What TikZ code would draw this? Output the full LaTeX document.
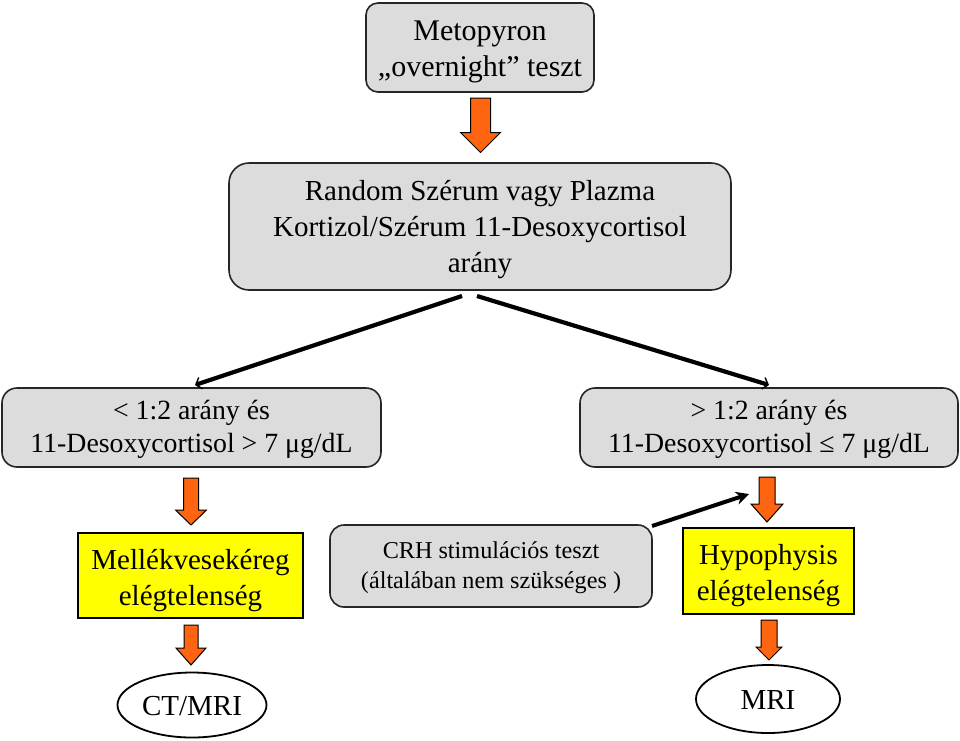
\documentclass[tikz,border=0pt]{standalone}
\usepackage{fontspec}
\setmainfont{Liberation Serif}
\usetikzlibrary{arrows.meta,shapes.geometric}
\definecolor{boxgray}{HTML}{DCDCDC}
\definecolor{orfill}{HTML}{FF6410}
\definecolor{yel}{HTML}{FFFF00}
\tikzset{
  graybox/.style={draw=black!85, line width=1.6pt, fill=boxgray, rounded corners=#1, inner sep=0pt},
  yelbox/.style={draw=black, line width=2.6pt, fill=yel, inner sep=0pt},
  ovalbox/.style={ellipse, draw=black, line width=1.8pt, fill=white, inner sep=0pt},
  txt/.style={align=center, inner sep=0pt},
  orarrow/.style={draw=black, line width=1pt, fill=orfill, line join=miter},
  blackarrow/.style={line width=4pt, -{Stealth[length=13pt,width=13pt]}},
  thinhead/.style={line width=4.2pt, -{Straight Barb[length=5pt,width=12pt,line width=1.4pt]}},
  topfont/.style={font=\fontsize{30}{36}\selectfont},
  bigfont/.style={font=\fontsize{29}{36}\selectfont},
  midfont/.style={font=\fontsize{27.8}{33}\selectfont},
  smallfont/.style={font=\fontsize{24.2}{30}\selectfont}
}
\newcommand\orangeArrow[6]{%
  \draw[orarrow] ({#1-#4/2},#2) -- ({#1+#4/2},#2) -- ({#1+#4/2},{#3-#6}) -- ({#1+#5/2},{#3-#6}) -- (#1,#3) -- ({#1-#5/2},{#3-#6}) -- ({#1-#4/2},{#3-#6}) -- cycle;}
\begin{document}
\begin{tikzpicture}[x=1pt,y=-1pt]
\useasboundingbox (0,0) rectangle (960,740);
\fill[white] (0,0) rectangle (960,740);

% boxes
\node[graybox=12pt, minimum width=228pt, minimum height=89pt] (metop) at (480,47.5) {};
\node[graybox=20pt, minimum width=502pt, minimum height=127pt] (ratio) at (480,226.5) {};
\node[graybox=15pt, minimum width=379pt, minimum height=79pt] (low) at (191.5,427.5) {};
\node[graybox=15pt, minimum width=378pt, minimum height=79pt] (high) at (769,427.5) {};
\node[yelbox, minimum width=225pt, minimum height=85pt] (adrenal) at (190.5,575.5) {};
\node[graybox=14pt, minimum width=322pt, minimum height=82pt] (crh) at (491,566) {};
\node[yelbox, minimum width=171pt, minimum height=86pt] (hypo) at (768.5,571) {};
\node[ovalbox, minimum width=149pt, minimum height=65pt] (ctmri) at (192,705) {};
\node[ovalbox, minimum width=144pt, minimum height=68pt] (mri) at (768,699) {};

% texts
\node[txt, topfont] (metopT) at ([yshift=-4pt]metop.center) {Metopyron\\„overnight” teszt};
\node[txt, bigfont] (ratioT) at ([yshift=-3pt]ratio.center) {Random Szérum vagy Plazma\\Kortizol/Szérum 11-Desoxycortisol\\arány};
\node[txt, midfont] (lowT) at ([yshift=-1.5pt]low.center) {< 1:2 arány és\\11-Desoxycortisol > 7 μg/dL};
\node[txt, midfont] (highT) at ([yshift=-1.5pt]high.center) {> 1:2 arány és\\11-Desoxycortisol ≤ 7 μg/dL};
\node[txt, bigfont] (adrenalT) at ([yshift=-5pt]adrenal.center) {Mellékvesekéreg\\elégtelenség};
\node[txt, smallfont] (crhT) at ([yshift=-2pt]crh.center) {CRH stimulációs teszt\\(általában nem szükséges )};
\node[txt, bigfont] (hypoT) at ([yshift=-5pt]hypo.center) {Hypophysis\\elégtelenség};
\node[txt, bigfont] (ctmriT) at ([yshift=-1pt]ctmri.center) {CT/MRI};
\node[txt, bigfont] (mriT) at ([yshift=-1pt]mri.center) {MRI};

% orange block arrows
\orangeArrow{480.5}{98}{152.5}{20}{40}{20}
\orangeArrow{191}{478}{525}{15}{31}{15}
\orangeArrow{767}{477}{522}{16}{32}{18}
\orangeArrow{191}{625}{665}{14}{30}{17}
\orangeArrow{769}{620}{660}{16}{26}{13}

% black connectors
\coordinate (lstart) at (462,296);
\coordinate (lend) at (195,385);
\coordinate (rstart) at (477,296);
\coordinate (rend) at (769,385);
\coordinate (crhstart) at (652,526);
\coordinate (crhend) at (749,494);
\draw[thinhead] (lstart) -- (lend);
\draw[thinhead] (rstart) -- (rend);
\draw[blackarrow] (crhstart) -- (crhend);
\end{tikzpicture}
\end{document}
